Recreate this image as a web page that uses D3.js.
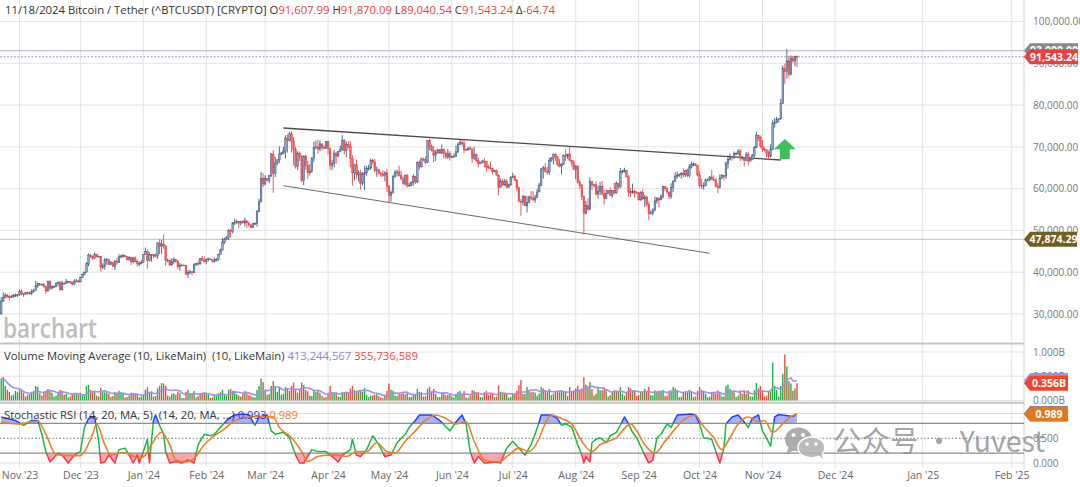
<!DOCTYPE html>
<html><head><meta charset="utf-8">
<script src="https://cdn.jsdelivr.net/npm/d3@7"></script>
<style>
html,body{margin:0;padding:0;background:#fff;}
svg{display:block;font-family:"Open Sans","Noto Sans",sans-serif;}
text{white-space:pre;}
</style></head><body>
<svg id="c" width="1080" height="487"></svg>
<script>
// ---------------- DATA (prices in thousands USDT, volumes in billions) ----------------
const startDate = "2023-10-23";
const prevClose = 29.99; // close of the day before the first visible candle
const closes = [
33.1,33.9,34.5,34.2,33.9,34.1,34.5,34.5,34.6,
35.4,34.9,34.7,35.1,35.0,35.0,35.4,35.6,36.7,37.3,37.1,37.1,36.5,35.5,37.9,36.2,36.6,36.6,37.4,37.5,35.8,37.4,37.3,37.7,37.8,37.5,37.2,37.8,37.9,37.7,
38.7,39.5,40.0,42.0,44.1,43.8,43.3,44.2,43.7,43.8,41.2,41.5,42.9,43.0,41.9,42.3,41.4,42.7,42.3,43.7,43.9,44.0,43.7,43.0,43.6,42.5,43.4,42.6,42.1,42.1,42.3,
44.2,45.0,42.8,44.2,44.2,44.0,43.9,47.0,46.1,46.7,46.3,42.8,42.9,41.7,42.5,43.1,42.7,41.3,41.6,41.7,41.6,39.5,39.9,40.1,39.9,41.8,42.1,42.0,43.3,42.9,42.6,
43.1,43.2,43.0,42.6,42.7,43.1,44.3,45.3,47.1,47.8,48.3,50.0,49.7,51.8,51.9,52.1,51.7,52.1,51.8,52.3,51.8,51.3,50.7,51.6,51.7,54.5,57.0,62.4,61.1,
62.4,62.0,63.1,68.3,63.7,66.1,66.9,68.3,68.5,69.0,72.1,71.5,73.1,71.4,69.4,65.3,68.4,67.6,61.9,67.8,65.5,63.8,64.2,67.2,69.9,70.0,69.5,70.7,69.9,69.6,71.3,
69.7,65.5,66.0,68.5,67.8,68.9,69.4,71.6,69.1,70.6,70.1,67.2,63.8,65.7,63.4,63.8,61.3,63.5,63.8,64.9,64.9,66.8,66.4,64.3,64.5,63.8,63.5,63.1,63.8,60.6,
58.3,59.1,62.9,63.9,64.0,63.2,62.3,61.2,63.1,60.8,60.8,61.5,62.9,61.6,66.3,65.2,67.1,66.9,66.3,71.5,70.1,69.1,67.9,68.5,69.3,68.5,69.4,68.4,67.6,68.4,67.5,
67.7,67.8,68.8,70.6,71.1,70.8,69.3,69.3,69.7,69.5,67.3,68.2,66.8,66.0,66.2,66.6,66.5,65.2,65.0,64.8,64.1,64.3,63.2,60.3,61.8,60.9,61.7,60.3,60.9,62.7,
62.9,62.0,60.2,57.0,56.7,58.2,55.9,56.7,58.0,57.7,57.3,57.9,59.2,60.8,64.7,65.0,64.1,64.0,66.7,67.2,68.2,67.6,65.9,65.4,65.8,67.9,67.8,68.3,66.8,66.2,64.6,
65.4,61.5,60.7,58.1,54.0,56.0,55.1,61.7,60.9,60.9,58.7,59.4,60.6,58.7,57.6,58.9,59.5,58.4,59.5,59.0,61.2,60.4,64.1,64.2,64.3,62.8,59.4,59.0,59.4,59.1,59.0,
57.3,59.1,57.5,58.0,56.2,54.0,54.2,54.9,57.1,57.6,57.3,58.1,60.5,60.0,59.2,58.2,60.3,61.8,63.0,63.2,63.4,63.6,63.3,64.3,63.1,65.2,65.8,65.9,65.6,63.3,
60.8,60.7,60.8,62.1,62.1,62.8,62.2,62.1,60.6,60.3,62.5,63.2,62.9,66.1,67.0,67.6,67.4,68.4,68.4,69.0,67.4,67.4,66.7,68.2,66.6,67.0,67.9,69.9,72.7,72.3,70.2,
69.5,69.3,68.7,67.8,69.4,75.6,75.9,76.5,76.7,80.4,88.7,88.0,90.6,87.3,91.1,90.6,91.60799,91.54324];
const highs = [
34.0,35.2,35.0,34.8,34.5,34.5,34.8,34.9,34.7,
35.9,35.9,34.9,35.2,35.4,35.3,35.9,35.9,37.9,37.5,37.4,37.2,37.4,36.8,37.9,37.9,36.8,36.8,37.5,37.8,37.8,37.9,37.6,38.4,37.9,37.8,37.6,38.4,38.4,38.2,
38.9,39.7,40.2,42.4,44.5,44.3,44.0,44.7,44.4,44.0,43.8,42.1,43.4,43.4,43.1,42.7,42.4,42.8,43.5,44.3,44.2,44.4,44.0,43.9,43.8,43.6,43.7,43.8,43.1,42.6,42.9,
44.2,45.9,45.5,44.8,44.3,44.2,44.5,47.2,47.9,47.7,49.0,46.5,43.3,43.0,43.4,43.6,43.2,42.9,42.2,41.9,41.9,41.7,40.5,40.6,40.3,42.2,42.2,42.8,43.3,43.9,43.7,
43.3,43.5,43.4,43.1,43.5,43.4,44.4,45.6,48.2,48.2,48.6,50.3,50.4,52.0,52.8,52.6,52.2,52.3,52.5,53.0,52.4,52.0,51.5,51.7,51.9,54.9,57.6,64.0,63.7,
63.2,62.5,63.2,68.5,69.2,67.6,67.0,70.1,68.8,70.0,72.8,73.0,73.6,73.8,72.4,70.0,68.9,68.9,68.1,68.0,68.2,66.6,65.9,67.6,71.2,71.5,71.7,71.6,70.9,70.4,71.4,
71.3,69.7,66.9,69.3,68.7,69.0,70.3,72.8,71.8,71.2,71.3,71.3,68.0,65.8,66.9,64.4,64.5,64.0,65.5,65.4,65.7,67.2,67.2,67.1,65.3,64.8,63.9,64.4,64.2,64.7,
60.8,59.6,63.3,64.5,64.6,65.5,64.3,62.9,63.4,63.5,61.4,61.8,63.5,63.1,66.5,66.7,67.4,67.4,67.7,71.5,71.9,70.6,70.1,69.2,69.6,69.5,70.6,69.6,68.9,69.5,69.0,
67.9,68.4,70.3,71.1,71.8,71.6,71.9,69.6,69.9,70.2,69.6,70.0,68.4,67.3,66.4,66.9,67.3,66.5,65.7,66.5,65.0,64.5,64.5,63.4,62.4,62.5,62.3,62.2,61.2,63.0,
63.8,63.3,62.3,60.5,57.5,58.5,58.3,58.2,58.3,59.5,59.4,58.5,59.9,61.4,64.9,65.4,66.1,65.2,67.4,67.6,68.4,68.5,67.8,67.1,66.1,68.2,69.4,68.3,70.0,66.9,66.8,
65.6,65.6,62.2,61.1,58.3,57.1,57.7,62.7,61.7,61.2,61.8,60.7,61.6,61.8,59.8,59.8,59.6,60.3,59.6,61.4,61.8,61.4,64.9,64.5,65.0,64.5,63.2,60.2,61.2,59.8,59.4,
59.0,59.4,59.8,58.5,58.3,56.9,54.8,55.3,58.1,58.0,57.9,58.6,60.7,60.6,60.4,59.2,61.3,62.0,63.9,64.1,63.6,64.0,64.8,64.5,64.8,65.8,66.5,66.3,66.1,65.6,
64.1,62.4,61.5,62.5,62.4,63.0,64.5,63.2,62.5,61.3,63.4,63.5,63.3,66.5,67.9,68.4,67.9,68.9,68.7,69.4,69.5,67.8,67.5,68.8,68.8,67.4,68.3,70.2,73.6,72.9,72.7,
71.6,69.9,69.4,69.1,70.6,76.4,76.9,77.2,76.9,81.5,89.5,89.9,93.4,91.8,91.9,91.8,91.8,91.87009];
const lows = [
29.9,32.9,33.7,33.8,33.3,33.9,33.9,34.1,34.1,
34.3,34.5,34.1,34.6,34.6,34.7,34.5,35.1,35.5,36.3,36.7,36.8,36.3,34.8,35.4,35.7,35.9,36.2,36.4,36.7,35.6,35.6,36.9,37.2,37.6,37.2,36.8,36.9,37.6,37.5,
37.6,38.6,39.3,40.0,41.4,43.4,42.9,43.1,43.6,43.6,40.2,40.7,40.6,41.8,41.7,41.7,41.3,40.5,41.8,42.2,43.3,43.4,43.6,42.8,42.7,41.7,42.1,42.3,41.3,41.5,41.9,
42.2,44.2,40.8,42.6,42.5,43.4,43.6,43.2,44.3,44.4,45.6,41.5,42.4,41.7,41.7,42.0,42.2,40.7,40.3,41.4,41.5,39.4,38.6,39.5,39.3,39.8,41.4,41.6,41.8,42.7,42.3,
41.9,42.6,42.9,42.3,42.3,42.6,42.8,44.3,45.2,46.8,47.7,47.7,48.3,49.3,51.3,51.6,50.6,51.2,51.7,50.9,50.6,50.9,50.5,50.6,51.3,50.9,54.4,56.7,60.4,
60.8,61.7,61.3,62.8,59.0,62.8,65.6,66.1,68.0,68.2,67.2,68.6,71.3,68.6,65.6,64.8,64.5,66.6,61.5,60.8,64.5,62.3,63.1,63.8,66.4,69.4,68.4,68.9,69.1,69.5,69.6,
68.1,64.5,64.5,65.1,66.0,67.5,68.7,69.0,68.2,67.5,69.6,65.1,60.7,62.0,62.3,61.7,59.8,60.8,59.6,63.1,64.3,64.5,65.8,63.9,62.8,63.3,62.8,62.8,61.8,59.2,
56.6,56.9,58.8,62.6,62.9,62.9,62.2,60.9,60.7,60.2,60.5,60.6,60.8,61.1,61.3,64.6,65.1,66.6,65.9,66.1,69.2,68.9,66.3,66.6,68.5,68.4,68.3,67.3,67.1,67.1,66.7,
67.4,67.3,67.6,68.5,70.4,70.1,68.5,69.2,69.1,69.2,66.1,66.9,66.3,65.1,65.9,66.0,65.1,64.1,64.7,64.5,63.4,63.9,63.2,58.4,60.6,60.7,60.6,60.1,60.4,60.7,
62.5,61.8,59.4,56.8,53.5,56.0,55.8,54.3,56.5,57.2,57.0,56.6,57.8,59.3,60.6,62.4,63.9,63.3,63.3,66.4,65.8,66.6,65.4,65.1,63.4,65.7,66.6,67.1,66.5,65.3,64.5,
62.3,61.2,59.9,57.2,49.0,53.9,54.6,54.8,59.6,60.3,58.4,57.6,58.5,58.4,56.1,57.8,58.8,58.4,57.8,58.6,58.8,59.8,60.3,63.6,63.8,62.8,58.1,57.9,58.8,57.8,58.7,
57.2,57.1,57.4,55.6,55.7,52.5,53.7,53.6,54.6,56.4,55.6,57.3,57.6,59.5,58.7,57.5,57.6,59.2,61.6,62.4,62.8,62.4,62.7,62.8,62.7,62.7,64.8,65.4,65.4,62.9,
60.2,59.9,59.8,60.5,61.7,61.8,62.1,61.8,60.3,58.9,60.0,62.4,62.0,62.4,64.8,66.7,66.7,67.1,68.1,68.1,66.6,66.8,65.3,66.6,65.5,66.5,66.8,67.6,69.7,71.4,69.7,
68.8,69.0,67.5,66.8,67.5,69.3,74.6,75.6,75.8,76.5,80.3,85.1,86.3,86.7,87.1,90.1,89.3,89.04054];
const volumes = [
0.45,0.48,0.30,0.22,0.18,0.10,0.12,0.20,0.17,
0.22,0.20,0.16,0.08,0.12,0.13,0.18,0.20,0.30,0.28,0.15,0.10,0.17,0.20,0.24,0.22,0.16,0.08,0.10,0.18,0.22,0.20,0.12,0.14,0.06,0.08,0.13,0.16,0.13,0.12,
0.16,0.10,0.12,0.30,0.32,0.22,0.18,0.20,0.10,0.08,0.26,0.18,0.17,0.17,0.14,0.07,0.09,0.18,0.16,0.20,0.16,0.14,0.06,0.07,0.10,0.16,0.15,0.14,0.14,0.07,0.08,
0.12,0.22,0.28,0.18,0.19,0.08,0.09,0.25,0.30,0.36,0.35,0.30,0.10,0.08,0.14,0.15,0.12,0.18,0.16,0.05,0.05,0.18,0.22,0.15,0.14,0.20,0.06,0.09,0.15,0.16,0.17,
0.15,0.12,0.05,0.06,0.11,0.10,0.15,0.17,0.22,0.12,0.10,0.22,0.24,0.20,0.20,0.13,0.10,0.08,0.14,0.20,0.15,0.11,0.10,0.07,0.06,0.22,0.30,0.45,0.38,
0.22,0.12,0.13,0.30,0.40,0.30,0.18,0.26,0.12,0.14,0.28,0.25,0.20,0.30,0.37,0.22,0.16,0.22,0.37,0.32,0.22,0.19,0.10,0.09,0.20,0.18,0.20,0.16,0.10,0.06,0.07,
0.16,0.30,0.15,0.17,0.15,0.08,0.08,0.18,0.17,0.18,0.15,0.25,0.30,0.22,0.20,0.20,0.20,0.18,0.26,0.12,0.07,0.10,0.10,0.12,0.13,0.09,0.06,0.05,0.12,0.20,
0.35,0.22,0.20,0.10,0.09,0.14,0.14,0.15,0.13,0.17,0.07,0.07,0.14,0.13,0.24,0.18,0.17,0.08,0.09,0.24,0.28,0.18,0.24,0.14,0.07,0.07,0.13,0.14,0.11,0.11,0.14,
0.08,0.06,0.14,0.18,0.20,0.14,0.20,0.06,0.06,0.10,0.21,0.20,0.17,0.17,0.07,0.07,0.17,0.20,0.11,0.13,0.14,0.07,0.08,0.31,0.18,0.14,0.14,0.13,0.06,0.08,
0.14,0.13,0.20,0.31,0.42,0.14,0.14,0.28,0.20,0.17,0.18,0.16,0.10,0.14,0.28,0.25,0.21,0.17,0.24,0.11,0.14,0.18,0.20,0.17,0.21,0.18,0.17,0.09,0.28,0.18,0.21,
0.25,0.30,0.22,0.25,0.48,0.33,0.27,0.38,0.23,0.10,0.14,0.25,0.21,0.21,0.27,0.21,0.08,0.11,0.17,0.21,0.20,0.18,0.28,0.14,0.10,0.17,0.28,0.25,0.20,0.21,0.09,
0.11,0.17,0.18,0.24,0.18,0.28,0.11,0.10,0.21,0.18,0.20,0.18,0.22,0.09,0.10,0.20,0.21,0.28,0.25,0.21,0.07,0.08,0.17,0.17,0.17,0.22,0.18,0.07,0.08,0.20,
0.28,0.22,0.20,0.14,0.07,0.08,0.18,0.17,0.14,0.21,0.18,0.08,0.08,0.30,0.33,0.24,0.20,0.17,0.07,0.10,0.21,0.14,0.18,0.14,0.21,0.08,0.08,0.21,0.36,0.25,0.30,
0.20,0.08,0.10,0.20,0.18,0.78,0.30,0.22,0.08,0.30,0.55,0.95,0.70,0.40,0.35,0.20,0.25,0.3557];

// Stochastic RSI: [days after startDate, value]
const stochK = [[0,0.93],[3,0.90],[7,0.86],[11,0.76],[15,0.86],[18,0.86],[20,0.58],[22,0.23],[24,0.02],[28,0.20],[30,0.16],[33,0],[36,0.16],[39,0.23],[41,0.72],[43,0.90],[46,0.94],[48,0.44],[49,0],[51,0.02],[53,0.16],[56,0],[58,0.27],[61,0.30],[63,0.16],[65,0],[67,0.16],[68,0],[70,0.23],[72,0.48],[73,0],[75,0.86],[76,0.97],[78,0.76],[80,0.58],[81,0.23],[83,0],[86,0.03],[89,0],[92,0.06],[95,0],[97,0.37],[100,0.58],[103,0.55],[105,0.58],[108,0.72],[112,0.90],[115,0.97],[119,0.99],[122,0.97],[125,0.76],[127,0.93],[131,0.97],[133,0.65],[135,0.58],[139,0.62],[142,0.51],[145,0.16],[147,0],[149,0],[153,0.27],[156,0.23],[160,0.23],[163,0.13],[166,0.02],[168,0.16],[172,0.27],[173,0.48],[175,0.16],[177,0.13],[180,0.27],[183,0.55],[186,0.37],[189,0.13],[192,0.16],[195,0.41],[199,0.58],[201,0.72],[204,0.86],[206,0.97],[212,0.97],[216,0.86],[221,0.65],[224,0.83],[227,0.97],[229,0.79],[231,0.23],[233,0],[235,0.13],[238,0],[244,0.02],[246,0],[249,0.30],[252,0.44],[255,0.30],[258,0.16],[261,0.37],[264,0.70],[266,0.97],[271,0.97],[274,0.90],[276,0.76],[278,0.79],[281,0.73],[284,0.37],[286,0.16],[287,0],[288,0.13],[290,0.02],[291,0.41],[293,0.48],[295,0.51],[298,0.41],[300,0.55],[303,0.62],[305,0.76],[307,0.93],[309,0.79],[311,0.62],[313,0.51],[317,0.16],[319,0],[321,0.06],[323,0.51],[325,0.58],[328,0.79],[330,0.72],[333,0.97],[340,0.99],[342,0.97],[344,0.79],[346,0.51],[350,0.48],[352,0.23],[354,0],[356,0.30],[357,0.79],[360,0.93],[363,0.97],[366,0.83],[368,0.72],[370,0.90],[373,0.97],[375,0.65],[379,0.34],[381,0.93],[383,0.98],[390,0.94],[392,0.993]];
const stochD = [[0,0.83],[8,0.79],[18,0.85],[22,0.58],[27,0.17],[32,0.15],[39,0.15],[41,0.23],[45,0.58],[47,0.79],[51,0.37],[54,0.16],[59,0.20],[62,0.20],[68,0.09],[71,0.16],[74,0.37],[79,0.62],[83,0.37],[86,0.06],[91,0.02],[95,0.09],[100,0.37],[105,0.55],[110,0.69],[115,0.86],[122,0.93],[129,0.94],[134,0.93],[137,0.72],[143,0.51],[148,0.23],[151,0.03],[156,0.13],[161,0.16],[166,0.16],[170,0.13],[175,0.23],[180,0.23],[185,0.41],[190,0.23],[194,0.20],[199,0.44],[204,0.65],[209,0.86],[214,0.97],[219,0.90],[224,0.79],[229,0.83],[233,0.44],[238,0.06],[245,0.02],[250,0.16],[255,0.30],[260,0.23],[265,0.50],[268,0.80],[271,0.97],[276,0.90],[281,0.79],[286,0.44],[291,0.23],[295,0.37],[299,0.44],[303,0.51],[306,0.65],[310,0.79],[313,0.65],[317,0.37],[322,0.20],[327,0.44],[332,0.69],[337,0.90],[342,0.97],[345,0.79],[351,0.51],[355,0.27],[358,0.44],[363,0.79],[368,0.93],[373,0.83],[376,0.86],[380,0.62],[385,0.79],[389,0.94],[392,0.989]];

const priceTicks = [30000,40000,50000,60000,70000,80000,90000,100000];
const volumeTicks = [0, 0.5e9, 1e9];
const stochTicks = [0, 0.5, 1];
const monthTicks = ["2023-11-01","2023-12-01","2024-01-01","2024-02-01","2024-03-01","2024-04-01","2024-05-01","2024-06-01","2024-07-01","2024-08-01","2024-09-01","2024-10-01","2024-11-01","2024-12-01","2025-01-01","2025-02-01"];
const trendUpper = [["2024-03-10",74510],["2024-11-10",66850]];
const trendLower = [["2024-03-10",60700],["2024-10-06",44530]];
const arrowMark = {date:"2024-11-12", low:67100, high:71900};
const supportLevel = 47874.29;
const highLevel = 93000;
const lastPrice = 91543.24;
const headerParts = [["11/18/2024 Bitcoin / Tether (^BTCUSDT) [CRYPTO] ","k"],["O","k"],["91,607.99","r"],[" H","k"],["91,870.09","r"],[" L","k"],["89,040.54","r"],[" C","k"],["91,543.24","r"],[" \u0394","k"],["-64.74","r"]];
const volumeLabel = ["Volume Moving Average (10, LikeMain)  (10, LikeMain) ","413,244,567"," 355,736,589"];
const volumeMAValue = 0.413244567e9, volumeLast = 0.355736589e9;
const stochLabel = ["Stochastic RSI (14, 20, MA, 5)  (14, 20, MA, ...) ","0.993"," 0.989"];
const stochK_last = 0.993, stochD_last = 0.989;
const watermark = "\u516C\u4F17\u53F7 \u00B7 Yuvest";

// ---------------- BUILD ----------------
const svg = d3.select("#c");
const XR = 1024;
const parseDay = d3.utcParse("%Y-%m-%d");
const N = Math.min(closes.length, highs.length, lows.length, volumes.length);
const d0 = parseDay(startDate);
const dates = d3.range(N).map(i => d3.utcDay.offset(d0, i));
const bars = d3.range(N).map(i => {
  const o = i === 0 ? prevClose : closes[i-1];
  const c = closes[i];
  return {date: dates[i], o: o*1000, c: c*1000,
    h: Math.max(highs[i], o, c)*1000, l: Math.min(lows[i], o, c)*1000, v: volumes[i]*1e9};
});

const x = d3.scaleUtc()
  .domain([parseDay("2023-10-22"), dates[N-1], parseDay("2024-12-01"), parseDay("2025-01-01"), parseDay("2025-02-01"), parseDay("2025-02-05")])
  .range([-0.8, 797, 835, 922.7, 1011.7, 1023.5]);
const y = d3.scaleLinear().domain([30000,100000]).range([314,21.5]);
const yv = d3.scaleLinear().domain([0,1e9]).range([400.5,352]);
const ys = d3.scaleLinear().domain([0,1]).range([463,413.5]);

const defs = svg.append("defs");
defs.append("clipPath").attr("id","cpPrice").append("rect").attr("x",0).attr("y",0).attr("width",XR).attr("height",343);
defs.append("clipPath").attr("id","cpVol").append("rect").attr("x",0).attr("y",345).attr("width",XR).attr("height",56);
defs.append("clipPath").attr("id","cpAbove").append("rect").attr("x",0).attr("y",404).attr("width",XR).attr("height",ys(0.8)-404);
defs.append("clipPath").attr("id","cpMid").append("rect").attr("x",0).attr("y",ys(0.8)).attr("width",XR).attr("height",ys(0.2)-ys(0.8));
defs.append("clipPath").attr("id","cpBelow").append("rect").attr("x",0).attr("y",ys(0.2)).attr("width",XR).attr("height",470-ys(0.2));

svg.append("rect").attr("width",1080).attr("height",487).attr("fill","#fff");

// grid
const grid = svg.append("g");
grid.selectAll(".vg").data(monthTicks).join("line")
  .attr("x1",d=>x(parseDay(d))).attr("x2",d=>x(parseDay(d))).attr("y1",0).attr("y2",468)
  .attr("stroke","#e3e3e3").attr("stroke-width",1);
grid.selectAll(".hg").data(priceTicks).join("line")
  .attr("x1",0).attr("x2",XR).attr("y1",d=>y(d)).attr("y2",d=>y(d)).attr("stroke","#e3e3e3");
grid.selectAll(".vgv").data(volumeTicks).join("line")
  .attr("x1",0).attr("x2",XR).attr("y1",d=>yv(d)).attr("y2",d=>yv(d)).attr("stroke","#e3e3e3");
grid.selectAll(".sg").data([0,1]).join("line")
  .attr("x1",0).attr("x2",XR).attr("y1",d=>ys(d)).attr("y2",d=>ys(d)).attr("stroke","#dcdcdc");
[343.5, 402.8].forEach(v => grid.append("line").attr("x1",0).attr("x2",XR).attr("y1",v).attr("y2",v).attr("stroke","#c4c4c4").attr("stroke-width",2));
grid.append("line").attr("x1",XR).attr("x2",XR).attr("y1",0).attr("y2",470).attr("stroke","#d4d4d4");

// ---- price panel
const pg = svg.append("g").attr("clip-path","url(#cpPrice)");
pg.append("line").attr("x1",0).attr("x2",XR).attr("y1",y(supportLevel)).attr("y2",y(supportLevel)).attr("stroke","#d9cdb2").attr("stroke-width",1.2);
pg.append("line").attr("x1",0).attr("x2",XR).attr("y1",y(highLevel)).attr("y2",y(highLevel)).attr("stroke","#b5b5b5").attr("stroke-width",1);
pg.append("line").attr("x1",0).attr("x2",XR).attr("y1",y(lastPrice)).attr("y2",y(lastPrice)).attr("stroke","#7f9fc8").attr("stroke-width",1).attr("stroke-dasharray","2,1.5");

const tl = d3.line().x(d=>x(parseDay(d[0]))).y(d=>y(d[1]));
pg.append("path").attr("d",tl(trendUpper)).attr("stroke","#4a4a4a").attr("stroke-width",1.3).attr("fill","none");
pg.append("path").attr("d",tl(trendLower)).attr("stroke","#6a6a6a").attr("stroke-width",1).attr("fill","none");

const upC = {wick:"#3a5784", body:"#8ea6c9", stroke:"#3a5784"}, dnC = {wick:"#ef4545", body:"#f36060", stroke:"#e83a3d"};
const cg = pg.append("g");
cg.selectAll("line").data(bars).join("line")
  .attr("x1",d=>x(d.date)).attr("x2",d=>x(d.date)).attr("y1",d=>y(d.h)).attr("y2",d=>y(d.l))
  .attr("stroke",d=>d.c>=d.o?upC.wick:dnC.wick).attr("stroke-width",0.9);
cg.selectAll("rect").data(bars).join("rect")
  .attr("x",d=>x(d.date)-0.8).attr("width",1.6)
  .attr("y",d=>y(Math.max(d.o,d.c))).attr("height",d=>Math.max(0.8, Math.abs(y(d.o)-y(d.c))))
  .attr("fill",d=>d.c>=d.o?upC.body:dnC.body).attr("stroke",d=>d.c>=d.o?upC.stroke:dnC.stroke).attr("stroke-width",0.5);

{
  const ax = x(parseDay(arrowMark.date)) , yt = y(arrowMark.high), yb = y(arrowMark.low);
  const ym = yt + (yb-yt)*0.52;
  pg.append("path").attr("d",`M${ax},${yt} L${ax+11},${ym} L${ax+5},${ym} L${ax+5},${yb} L${ax-5},${yb} L${ax-5},${ym} L${ax-11},${ym} Z`)
    .attr("fill","#3cbf5c");
}

svg.append("text").attr("x",3).attr("y",338).attr("font-size",27).attr("font-weight",600)
  .attr("fill","#bdbdbd").attr("textLength",94).attr("lengthAdjust","spacingAndGlyphs").text("barchart");

const colorOf = {k:"#333", r:"#e8413c"};
const ht = svg.append("text").attr("x",5).attr("y",13.5).attr("font-size",11.3).attr("textLength",550).attr("lengthAdjust","spacingAndGlyphs");
headerParts.forEach(p => ht.append("tspan").attr("fill",colorOf[p[1]]).text(p[0]));

// ---- volume panel
const vg = svg.append("g").attr("clip-path","url(#cpVol)");
vg.selectAll("rect").data(bars).join("rect")
  .attr("x",d=>x(d.date)-0.7).attr("width",1.4)
  .attr("y",d=>yv(d.v)).attr("height",d=>yv(0)-yv(d.v))
  .attr("fill",d=>d.c>=d.o?"#1fb04a":"#f24b3c");
const vma = bars.map((d,i)=>d3.mean(bars.slice(Math.max(0,i-9),i+1),b=>b.v));
vg.append("path").datum(vma).attr("fill","none").attr("stroke","#a98be8").attr("stroke-width",1.6)
  .attr("d",d3.line().x((d,i)=>x(bars[i].date)).y(d=>yv(d)));
const vt = svg.append("text").attr("x",4).attr("y",359.5).attr("font-size",11).attr("textLength",414).attr("lengthAdjust","spacingAndGlyphs");
vt.append("tspan").attr("fill","#333").text(volumeLabel[0]);
vt.append("tspan").attr("fill","#8f7fe0").text(volumeLabel[1]);
vt.append("tspan").attr("fill","#ee4a3c").text(volumeLabel[2]);

// ---- stochastic RSI
const sx = p => x(d3.utcDay.offset(d0, p[0]));
const sg = svg.append("g");
sg.append("path").datum(stochK).attr("clip-path","url(#cpAbove)").attr("fill","#93a0f5").attr("fill-opacity",0.8)
  .attr("d",d3.area().x(sx).y0(ys(0.8)).y1(p=>ys(p[1])));
sg.append("path").datum(stochK).attr("clip-path","url(#cpBelow)").attr("fill","#f7919a").attr("fill-opacity",0.8)
  .attr("d",d3.area().x(sx).y0(ys(0.2)).y1(p=>ys(p[1])));
[0.8,0.2].forEach(v=>sg.append("line").attr("x1",0).attr("x2",XR).attr("y1",ys(v)).attr("y2",ys(v)).attr("stroke","#8c8c8c").attr("stroke-width",1.3));
sg.append("line").attr("x1",0).attr("x2",XR).attr("y1",ys(0.5)).attr("y2",ys(0.5)).attr("stroke","#777").attr("stroke-dasharray","1.5,2");
const kLine = d3.line().x(sx).y(p=>ys(p[1]));
[["cpAbove","#2b3ff2"],["cpMid","#1db644"],["cpBelow","#fb3347"]].forEach(([cp,col])=>
  sg.append("path").datum(stochK).attr("clip-path",`url(#${cp})`).attr("fill","none").attr("stroke",col).attr("stroke-width",1.5).attr("stroke-linejoin","round").attr("d",kLine));
sg.append("path").datum(stochD).attr("fill","none").attr("stroke","#ea7f27").attr("stroke-width",1.6)
  .attr("d",d3.line().curve(d3.curveMonotoneX).x(sx).y(p=>ys(p[1])));
const st = svg.append("text").attr("x",4).attr("y",418.5).attr("font-size",11).attr("textLength",294).attr("lengthAdjust","spacingAndGlyphs");
st.append("tspan").attr("fill","#333").text(stochLabel[0]);
st.append("tspan").attr("fill","#2b3ff2").text(stochLabel[1]);
st.append("tspan").attr("fill","#ea7f27").text(stochLabel[2]);

// ---- axes
const axisStyle = g => { g.select(".domain").remove(); g.selectAll(".tick line").remove();
  g.selectAll("text").attr("fill","#777").attr("font-size",10).attr("font-family","'Open Sans','Noto Sans',sans-serif"); };
svg.append("g").attr("transform",`translate(${XR},0)`)
  .call(d3.axisRight(y).tickValues(priceTicks).tickFormat(d3.format(",.2f")).tickSize(0).tickPadding(9)).call(axisStyle);
svg.append("g").attr("transform",`translate(${XR},0)`)
  .call(d3.axisRight(yv).tickValues(volumeTicks).tickFormat(d=>d3.format(".3f")(d/1e9)+"B").tickSize(0).tickPadding(9)).call(axisStyle);
svg.append("g").attr("transform",`translate(${XR},0)`)
  .call(d3.axisRight(ys).tickValues(stochTicks).tickFormat(d3.format(".3f")).tickSize(0).tickPadding(9)).call(axisStyle);
svg.append("g").attr("transform","translate(0,472)")
  .call(d3.axisBottom(x).tickValues(monthTicks.map(parseDay)).tickFormat(d3.utcFormat("%b '%y")).tickSize(0).tickPadding(0)).call(axisStyle)
  .selectAll("text").attr("fill","#666").attr("font-size",10.5);

// ---- tags
function tag(yy, text, fill, w){
  const x0 = XR, h = 15, g = svg.append("g");
  g.append("path").attr("d",`M${x0},${yy} L${x0+6},${yy-h/2} L${x0+w},${yy-h/2} L${x0+w},${yy+h/2} L${x0+6},${yy+h/2} Z`).attr("fill",fill);
  g.append("text").attr("x",x0+6+(w-6)/2).attr("y",yy).attr("dy","0.35em").attr("text-anchor","middle")
    .attr("fill","#fff").attr("font-weight",700).attr("font-size",10.5).text(text);
}
tag(y(highLevel), d3.format(",.2f")(highLevel), "#8a8a8a", 54);
tag(y(lastPrice), d3.format(",.2f")(lastPrice), "#e8403d", 54);
tag(y(supportLevel), d3.format(",.2f")(supportLevel), "#735e1f", 53);
tag(yv(volumeMAValue), d3.format(".3f")(volumeMAValue/1e9)+"B", "#a98be8", 44);
tag(yv(volumeLast), d3.format(".3f")(volumeLast/1e9)+"B", "#f0452f", 44);
tag(ys(stochK_last), d3.format(".3f")(stochK_last), "#2b3ff2", 44);
tag(ys(stochD_last), d3.format(".3f")(stochD_last), "#e07a22", 44);

// ---- watermark
const wm = svg.append("g").attr("opacity",0.85);
wm.append("ellipse").attr("cx",798.5).attr("cy",439.5).attr("rx",13.5).attr("ry",12).attr("fill","#9e9e9e");
wm.append("path").attr("d","M789,447 L786,454 L795,450 Z").attr("fill","#9e9e9e");
wm.append("circle").attr("cx",793.5).attr("cy",435).attr("r",2).attr("fill","#fff");
wm.append("circle").attr("cx",803).attr("cy",435).attr("r",2).attr("fill","#fff");
wm.append("ellipse").attr("cx",811.5).attr("cy",447.5).attr("rx",13.5).attr("ry",10.5).attr("fill","#b0b0b0").attr("stroke","#fff").attr("stroke-width",1.5);
wm.append("path").attr("d","M818,455 L823,459 L821,452 Z").attr("fill","#b0b0b0");
wm.append("circle").attr("cx",807).attr("cy",444).attr("r",1.8).attr("fill","#fff");
wm.append("circle").attr("cx",816).attr("cy",444).attr("r",1.8).attr("fill","#fff");
svg.append("text").attr("x",833).attr("y",452).attr("font-size",29)
  .attr("font-family","'Noto Sans CJK SC','Noto Sans',sans-serif").attr("fill","#8f8f8f").attr("fill-opacity",0.82)
  .attr("textLength",212).attr("lengthAdjust","spacingAndGlyphs").text(watermark);
</script>
</body></html>
